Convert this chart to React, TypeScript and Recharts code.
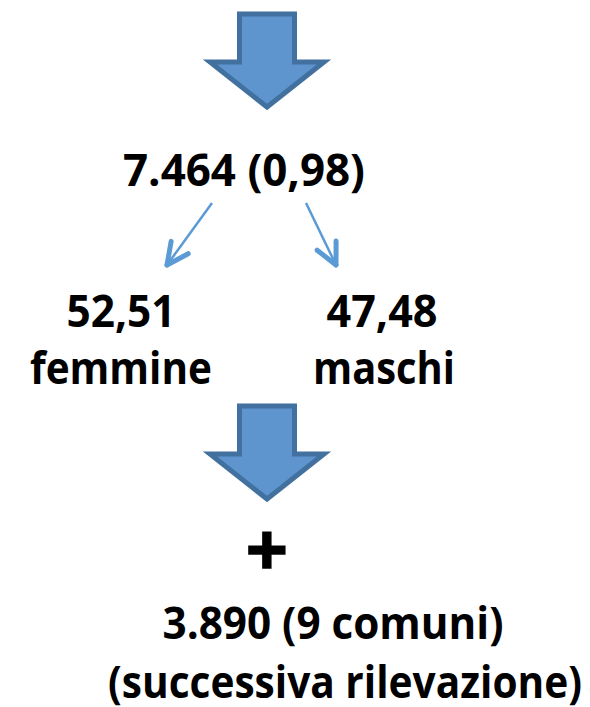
import { Scatter, ScatterChart, XAxis, YAxis } from "recharts"

const W = 590
const H = 707

// top centre of each block arrow
const blockArrows = [
  { x: 267, y: 14 },
  { x: 267, y: 406 },
]

// thin split arrows: start, tip
const leftSplit = [
  { x: 212, y: 203 },
  { x: 167, y: 265 },
]
const rightSplit = [
  { x: 306, y: 203 },
  { x: 336, y: 265 },
]

const totals = [{ x: 244, y: 186, text: "7.464 (0,98)" }]
const shares = [
  { x: 121, y: 327, text: "52,51" },
  { x: 382, y: 327, text: "47,48" },
]
const genders = [
  { x: 121, y: 384, text: "femmine" },
  { x: 384, y: 384, text: "maschi" },
]
const plus = [{ x: 267, y: 576, text: "+" }]
const later = [
  { x: 333, y: 639, text: "3.890 (9 comuni)" },
  { x: 345, y: 698, text: "(successiva rilevazione)" },
]

const textWidths: Record<string, number> = {
  "7.464 (0,98)": 242,
  "52,51": 109,
  "47,48": 111,
  femmine: 182,
  maschi: 142,
  "3.890 (9 comuni)": 341,
  "(successiva rilevazione)": 474,
}

function BlockArrow({ cx, cy }: any) {
  const d = [
    [cx - 27.5, cy],
    [cx + 27.5, cy],
    [cx + 27.5, cy + 48],
    [cx + 57, cy + 48],
    [cx, cy + 93],
    [cx - 57, cy + 48],
    [cx - 27.5, cy + 48],
  ]
    .map((p, i) => (i ? "L" : "M") + p[0] + "," + p[1])
    .join(" ")
  return <path d={d + " Z"} fill="#5E95CE" stroke="#43719F" strokeWidth={5} strokeLinejoin="miter" />
}

function SplitTip(props: any, pts: { x: number; y: number }[]) {
  const { cx, cy, payload } = props
  if (payload.x !== pts[1].x || payload.y !== pts[1].y) return <g />
  const ang = Math.atan2(pts[0].y - pts[1].y, pts[0].x - pts[1].x)
  const len = 24
  const spread = (26 * Math.PI) / 180
  const a1 = ang - spread
  const a2 = ang + spread
  return (
    <g stroke="#5B9BD5" strokeWidth={5} strokeLinecap="round" fill="none">
      <line x1={cx} y1={cy} x2={cx + len * Math.cos(a1)} y2={cy + len * Math.sin(a1)} />
      <line x1={cx} y1={cy} x2={cx + len * Math.cos(a2)} y2={cy + len * Math.sin(a2)} />
    </g>
  )
}

function Label({ cx, cy, payload }: any) {
  const w = textWidths[payload.text]
  const isPlus = payload.text === "+"
  return (
    <text
      x={cx}
      y={cy}
      textAnchor="middle"
      fontFamily="'Open Sans', sans-serif"
      fontWeight={700}
      fontSize={isPlus ? 74 : 44}
      fill="#000"
      stroke={isPlus ? "#000" : "none"}
      strokeWidth={isPlus ? 1.5 : 0}
      textLength={w}
      lengthAdjust={w ? "spacingAndGlyphs" : undefined}
    >
      {payload.text}
    </text>
  )
}

export default function App() {
  return (
    <div style={{ position: "absolute", left: 0, top: 0, background: "#fff" }}>
      <ScatterChart width={W} height={H} margin={{ top: 0, right: 0, bottom: 0, left: 0 }}>
        <XAxis type="number" dataKey="x" domain={[0, W]} hide />
        <YAxis type="number" dataKey="y" domain={[0, H]} reversed hide />
        <Scatter data={blockArrows} shape={BlockArrow} isAnimationActive={false} />
        <Scatter
          data={leftSplit}
          line={{ stroke: "#5B9BD5", strokeWidth: 2.5 }}
          shape={(p: any) => SplitTip(p, leftSplit)}
          isAnimationActive={false}
        />
        <Scatter
          data={rightSplit}
          line={{ stroke: "#5B9BD5", strokeWidth: 2.5 }}
          shape={(p: any) => SplitTip(p, rightSplit)}
          isAnimationActive={false}
        />
        <Scatter data={totals} shape={Label} isAnimationActive={false} />
        <Scatter data={shares} shape={Label} isAnimationActive={false} />
        <Scatter data={genders} shape={Label} isAnimationActive={false} />
        <Scatter data={plus} shape={Label} isAnimationActive={false} />
        <Scatter data={later} shape={Label} isAnimationActive={false} />
      </ScatterChart>
    </div>
  )
}
